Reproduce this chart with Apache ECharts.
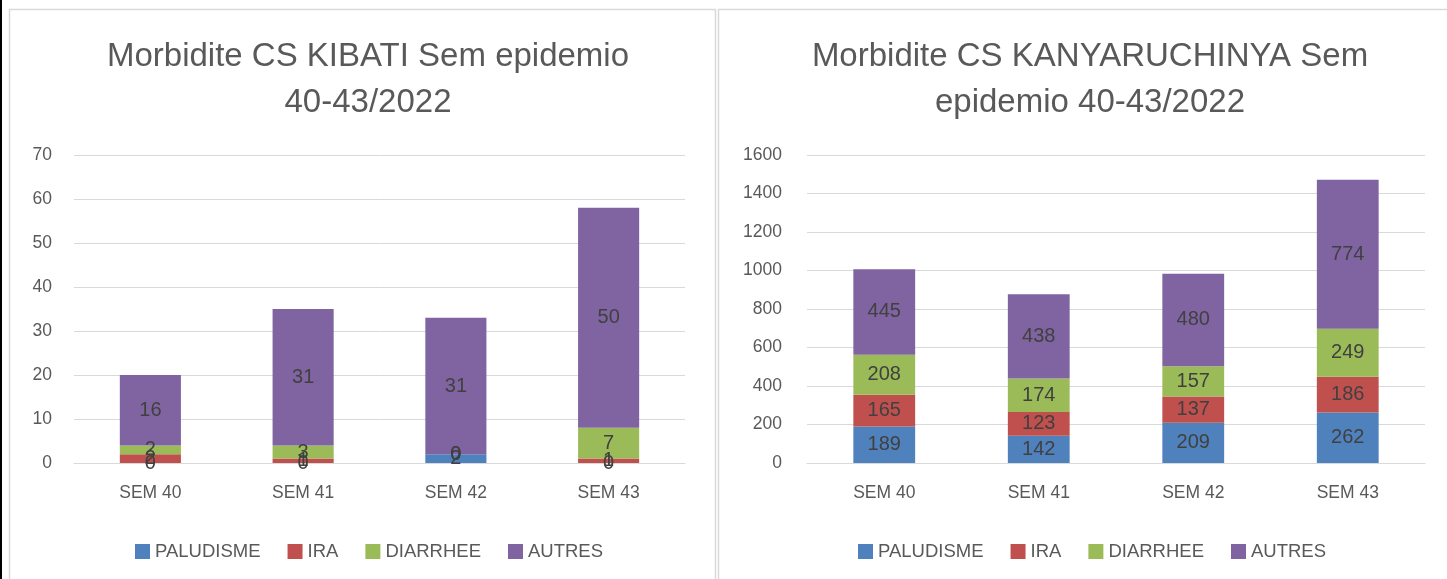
<!DOCTYPE html>
<html>
<head>
<meta charset="utf-8">
<script src="https://cdn.jsdelivr.net/npm/echarts@6/dist/echarts.min.js"></script>
<style>
html, body { margin: 0; padding: 0; background: #fff; }
#main { width: 1447px; height: 579px; }
</style>
</head>
<body>
<div id="main"></div>
<script>
// semaines epidemio
var weeks = ["SEM 40", "SEM 41", "SEM 42", "SEM 43"];
var names = ["PALUDISME", "IRA", "DIARRHEE", "AUTRES"];
var colors = ["#4f81bd", "#c0504d", "#9bbb59", "#8064a2"];

// CS KIBATI
var kibatiPalu = [0, 0, 2, 0];
var kibatiIra = [2, 1, 0, 1];
var kibatiDiar = [2, 3, 0, 7];
var kibatiAutres = [16, 31, 31, 50];

// CS KANYARUCHINYA
var kanyaPalu = [189, 142, 209, 262];
var kanyaIra = [165, 123, 137, 186];
var kanyaDiar = [208, 174, 157, 249];
var kanyaAutres = [445, 438, 480, 774];

var fontFam = "'Liberation Sans', 'DejaVu Sans', sans-serif";
var grey = "#595959";

function makeSeries(arrs, idx, stack) {
    return arrs.map(function (data, i) {
        return {
            name: names[i],
            type: "bar",
            stack: stack,
            xAxisIndex: idx,
            yAxisIndex: idx,
            barWidth: "40%",
            data: data,
            itemStyle: { color: colors[i] },
            label: {
                show: true,
                position: "inside",
                color: "#404040",
                fontSize: 20,
                fontFamily: fontFam
            }
        };
    });
}

var myChart = echarts.init(document.getElementById("main"));

var xAxisBase = {
    type: "category",
    data: weeks,
    axisTick: { show: false },
    axisLine: { lineStyle: { color: "#d9d9d9", width: 1 } },
    axisLabel: { color: grey, fontSize: 17.5, fontFamily: fontFam, margin: 21 }
};
function yAxisBase(max, interval, margin) {
    return {
        type: "value",
        min: 0,
        max: max,
        interval: interval,
        axisLine: { show: false },
        axisTick: { show: false },
        splitLine: { lineStyle: { color: "#d9d9d9", width: 1 } },
        axisLabel: {
            color: grey, fontSize: 17.5, fontFamily: fontFam, margin: margin,
            formatter: function (v) { return String(v); }
        }
    };
}

var legendBase = {
    data: names,
    top: 537,
    icon: "rect",
    itemWidth: 15,
    itemHeight: 15,
    itemGap: 27,
    textStyle: { color: grey, fontSize: 18.5, fontFamily: fontFam }
};

var option = {
    animation: false,
    title: [
        {
            text: "Morbidite CS KIBATI Sem epidemio\n40-43/2022",
            left: 363,
            top: 29,
            textAlign: "center",
            textStyle: { color: grey, fontSize: 33, fontWeight: "normal", fontFamily: fontFam, lineHeight: 46 }
        },
        {
            text: "Morbidite CS KANYARUCHINYA Sem\nepidemio 40-43/2022",
            left: 1085,
            top: 29,
            textAlign: "center",
            textStyle: { color: grey, fontSize: 33, fontWeight: "normal", fontFamily: fontFam, lineHeight: 46 }
        }
    ],
    legend: [
        Object.assign({ left: 130 }, legendBase),
        Object.assign({ left: 853 }, legendBase)
    ],
    grid: [
        { left: 74, top: 155, width: 611, height: 308 },
        { left: 807, top: 155, width: 618, height: 308 }
    ],
    xAxis: [
        Object.assign({ gridIndex: 0 }, xAxisBase),
        Object.assign({ gridIndex: 1 }, xAxisBase)
    ],
    yAxis: [
        Object.assign({ gridIndex: 0 }, yAxisBase(70, 10, 22)),
        Object.assign({ gridIndex: 1 }, yAxisBase(1600, 200, 25))
    ],
    graphic: [
        { type: "rect", shape: { x: 0, y: 0, width: 2, height: 579 }, style: { fill: "#000" } },
        { type: "polyline", shape: { points: [[9.5, 579], [9.5, 9.5], [715.5, 9.5], [715.5, 579]] }, style: { fill: null, stroke: "#d9d9d9", lineWidth: 1.5 } },
        { type: "polyline", shape: { points: [[718.5, 579], [718.5, 9.5], [1447, 9.5]] }, style: { fill: null, stroke: "#d9d9d9", lineWidth: 1.5 } }
    ],
    series: makeSeries([kibatiPalu, kibatiIra, kibatiDiar, kibatiAutres], 0, "kibati")
        .concat(makeSeries([kanyaPalu, kanyaIra, kanyaDiar, kanyaAutres], 1, "kanya"))
};
myChart.setOption(option);
</script>
</body>
</html>
